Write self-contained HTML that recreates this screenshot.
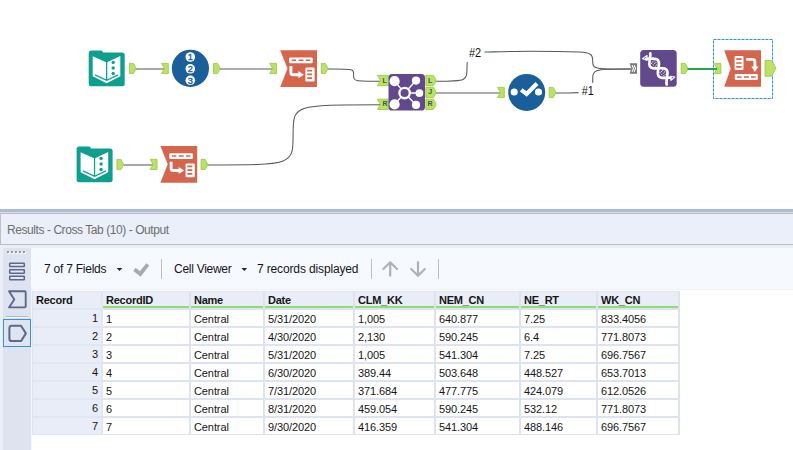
<!DOCTYPE html>
<html><head><meta charset="utf-8">
<style>
html,body{margin:0;padding:0;}
body{width:793px;height:450px;overflow:hidden;background:#fff;position:relative;font-family:"Liberation Sans",sans-serif;}
.abs{position:absolute;}
#canvas{position:absolute;left:0;top:0;width:793px;height:209px;background:#fff;}
#band{position:absolute;left:0;top:209px;width:793px;height:3px;background:#abbbdd;}
#band2{position:absolute;left:0;top:212px;width:793px;height:1px;background:#dedfe2;}
#title{position:absolute;left:0;top:213px;width:793px;height:32px;background:#ebeffa;border-top:1px solid #bcbcbc;border-bottom:1px solid #bcbcbc;border-left:1px solid #c0c0c0;box-sizing:border-box;}
#title span{position:absolute;left:6px;top:8.5px;font-size:12px;line-height:14px;color:#6e6e6e;white-space:nowrap;letter-spacing:-0.43px;}
#panel{position:absolute;left:0;top:245px;width:793px;height:205px;background:#ebeffa;}
#side{position:absolute;left:3px;top:248px;width:28px;height:202px;background:#dde3ef;border-radius:2px 2px 0 0;}
#toolbar{position:absolute;left:31px;top:248px;width:762px;height:42px;background:#f6f9fe;border-radius:3px 0 0 3px;border-bottom:1px solid #f0f0f1;box-sizing:border-box;}
#white{position:absolute;left:31px;top:290px;width:762px;height:160px;background:linear-gradient(90deg,#f3f4f7 1px,#fff 1px);}
.tb{position:absolute;font-size:12px;line-height:14px;color:#161616;white-space:nowrap;top:262px;}
.sep{position:absolute;width:1px;background:#bdbdbd;top:259px;height:20px;}
table{position:absolute;left:32px;top:291px;border-collapse:separate;border-spacing:0;font-size:11px;color:#161616;}
td,th{height:16px;padding:0 0 0 3px;border-right:2px solid #dde3f0;border-bottom:2px solid #dde3f0;text-align:left;white-space:nowrap;background:#fff;box-sizing:content-box;line-height:16px;letter-spacing:-0.1px;font-weight:normal;}
th{background:#e9edf7;font-weight:bold;border-top:1px solid #dde3f0;position:relative;letter-spacing:-0.25px;}
th.g:after{content:"";position:absolute;left:0;right:0;bottom:0;height:2px;background:#92dd72;}
td.r,th.r{background:#e9edf7;border-left:1px solid #dde3f0;border-right-color:#e0e6f2;border-bottom-color:#e0e6f2;}
td{padding-top:2px;height:14px;line-height:14px;}
td.r{text-align:right;padding:0 3.1px 0 0;height:16px;line-height:16px;}
tr:last-child td{border-bottom-width:1px;}
</style></head><body>
<div id="canvas">
<svg class="abs" style="left:0;top:0" width="793" height="209" viewBox="0 0 793 209" font-family="Liberation Sans, sans-serif">
<defs>
  <polygon id="ao" points="0.4,0.4 4.4,0.4 6.7,4.5 6.7,6.5 4.4,10.6 0.4,10.6" fill="#bbe167" stroke="#97c942" stroke-width="0.85"/>
  <polygon id="ai" points="0.4,0.4 7.2,0.4 7.2,10.6 0.4,10.6 3.4,5.5" fill="#bbe167" stroke="#97c942" stroke-width="0.85"/>
  <g id="input">
    <path d="M2.5,0 H12.2 Q13.4,0 13.9,1 L14.4,2 H33.5 Q36,2 36,4.5 V33.3 Q36,35.8 33.5,35.8 H2.5 Q0,35.8 0,33.3 V2.5 Q0,0 2.5,0 Z" fill="#0f9f8f"/>
    <polygon points="4,5.7 17.95,11.9 31.6,5.5 31.6,25.7 17.95,32.8 4,25.7" fill="#fff"/>
    <circle cx="24.5" cy="11.9" r="1.7" fill="#0f9f8f"/>
    <circle cx="24.5" cy="17.5" r="1.7" fill="#0f9f8f"/>
    <circle cx="24.5" cy="23" r="1.7" fill="#0f9f8f"/>
    <path d="M17.95,11.5V29.8M6.4,24.4L17.95,29.9L29.4,24.4" fill="none" stroke="#0f9f8f" stroke-width="1.25"/>
  </g>
  <g id="transpose">
    <polygon points="0,0 36.8,0 36.8,36.7 0,36.7 7.3,18.3" fill="#d6654d"/>
    <rect x="8.9" y="7.2" width="23.6" height="5.8" rx="1.2" fill="#fff"/>
    <path d="M11.6,10.1H15.9M18.4,10.1H23.3M25.5,10.1H30" stroke="#d6654d" stroke-width="1.5" fill="none"/>
    <path d="M10.7,15.8V22.2Q10.7,24.5 13,24.5H18.8" stroke="#fff" stroke-width="2.9" fill="none"/>
    <polygon points="18.2,20.9 23.7,24.5 18.2,28.1" fill="#fff"/>
    <rect x="25.2" y="17.4" width="9.2" height="13.9" rx="1.2" fill="#fff"/>
    <path d="M26.9,20.4H31.9M26.9,24.1H31.9M26.9,27.9H31.9" stroke="#d6654d" stroke-width="1.7" fill="none"/>
  </g>
  <g id="crosstab">
    <polygon points="0,0 36.8,0 36.8,36.5 0,36.5 6.5,18.2" fill="#d6654d"/>
    <rect x="10.4" y="5.8" width="8.9" height="13.8" rx="1.2" fill="#fff"/>
    <path d="M12,8.8H17.4M12,12.7H17.4M12,16.5H17.4" stroke="#d6654d" stroke-width="1.7" fill="none"/>
    <path d="M22,9.1H28.3Q30.7,9.1 30.7,11.5V17" stroke="#fff" stroke-width="2.9" fill="none"/>
    <polygon points="27.1,16.2 34.3,16.2 30.7,21.6" fill="#fff"/>
    <rect x="10.6" y="23.8" width="23" height="5.9" rx="1.2" fill="#fff"/>
    <path d="M12.8,26.7H17.3M19.8,26.7H24.8M26.8,26.7H31.4" stroke="#d6654d" stroke-width="1.6" fill="none"/>
  </g>
</defs>

<!-- wires -->
<g fill="none" stroke="#585858" stroke-width="1.05">
  <path d="M135.8,69H164.6"/>
  <path d="M220,69H272.7"/>
  <path d="M327.8,69C353.6,69 353.6,68.6 353.6,75 C353.6,81.3 353.6,81.3 380.8,81.3"/>
  <path d="M123.4,165H153.3"/>
  <path d="M207.6,165C293.1,165 293.1,165 293.1,134.7 C293.1,104.8 293.1,104.8 380.8,104.8"/>
  <path d="M435.6,93H500.5"/>
  <path d="M435.6,81.3C467,81.3 467,81.3 467,66.6 C467,55 469,52.4 484.5,52.1 C500,51.7 515,51.2 530,51.2 C548,51.2 565,51.5 579,52.1 C590.8,52.7 592.7,54.5 592.7,60.5 C592.7,69 592.7,69 630,69H631.2"/>
  <path d="M555.8,93C592.7,93 592.7,93 592.7,81 C592.7,69 592.7,69 630,69H631.2"/>
</g>

<!-- labels -->
<rect x="465.8" y="44.5" width="18.6" height="17.4" fill="#fff"/>
<text x="469" y="57" font-size="12.6" fill="#111" textLength="12.2" lengthAdjust="spacingAndGlyphs">#2</text>
<rect x="578.6" y="82.8" width="18.3" height="15.6" fill="#fff"/>
<text x="581.8" y="95" font-size="12.6" fill="#111" textLength="12" lengthAdjust="spacingAndGlyphs">#1</text>

<!-- tool 1: input -->
<use href="#input" x="88.7" y="50.5"/>
<use href="#ao" x="129" y="63"/>
<!-- tool 2: record id -->
<use href="#ai" x="161.1" y="63"/>
<circle cx="190.4" cy="68.3" r="18.6" fill="#1a5e9a"/>
<g fill="#fff"><circle cx="190.3" cy="57" r="4.8"/><circle cx="190.3" cy="68.8" r="4.8"/><circle cx="190.3" cy="80.3" r="4.8"/></g>
<g font-size="9.2" fill="#1a5e9a" stroke="#1a5e9a" stroke-width="0.35" text-anchor="middle"><text x="190.2" y="60.3">1</text><text x="190.3" y="72.1">2</text><text x="190.3" y="83.6">3</text></g>
<use href="#ao" x="213.1" y="63"/>
<!-- tool 3: transpose -->
<use href="#ai" x="269.3" y="63"/>
<use href="#transpose" x="280.2" y="50.2"/>
<use href="#ao" x="320.9" y="63"/>
<!-- tool 4: join -->
<g>
  <polygon points="377.4,75.4 388.2,75.4 388.2,85.7 377.4,85.7 380.5,80.55" fill="#bbe167" stroke="#97c942" stroke-width="0.85"/>
  <polygon points="377.4,99.2 388.2,99.2 388.2,109.5 377.4,109.5 380.5,104.35" fill="#bbe167" stroke="#97c942" stroke-width="0.85"/>
  <rect x="388.5" y="73.9" width="36.5" height="36.6" rx="3.6" fill="#62498e"/>
  <g transform="translate(0,0.45)"><g stroke="#fff" stroke-width="1.4"><path d="M404.6,92.6L394.6,80.7M404.6,92.6L394.6,104M404.6,92.6L416,80.1M404.6,92.6H419.4M404.6,92.6L416,104.5"/></g>
  <circle cx="404.6" cy="92.6" r="5.2" fill="#62498e" stroke="#fff" stroke-width="2.3"/>
  <g fill="#fff"><circle cx="394.6" cy="80.7" r="5.1"/><circle cx="394.6" cy="104" r="5.1"/><circle cx="416" cy="80.1" r="4.1"/><circle cx="419.4" cy="92.6" r="3.9"/><circle cx="416" cy="104.5" r="4.1"/></g></g>
  <g fill="#bbe167" stroke="#97c942" stroke-width="0.85">
    <polygon points="425.8,75.4 433.3,75.4 435.8,79.3 435.8,81.8 433.3,85.7 425.8,85.7"/>
    <polygon points="425.8,87.3 433.3,87.3 435.8,91.2 435.8,93.7 433.3,97.6 425.8,97.6"/>
    <polygon points="425.8,99.2 433.3,99.2 435.8,103.1 435.8,105.6 433.3,109.5 425.8,109.5"/>
  </g>
  <g font-size="7" font-weight="bold" fill="#2f5f45">
    <text x="382.4" y="83">L</text><text x="382.5" y="106.3">R</text>
    <text x="427.9" y="83">L</text><text x="428.2" y="94.3">J</text><text x="427.5" y="106.3">R</text>
  </g>
</g>
<!-- tool 5: cleanse -->
<use href="#ai" x="497.1" y="87"/>
<circle cx="526.7" cy="92.4" r="18.5" fill="#1a5e9a"/>
<circle cx="514.2" cy="92" r="3.55" fill="#fff"/><circle cx="538.5" cy="92" r="3.55" fill="#fff"/>
<path d="M521.2,89.8L526.6,93.9L537,83.4" stroke="#fff" stroke-width="4.2" fill="none"/>
<use href="#ao" x="548.8" y="87"/>
<!-- tool 6: union -->
<g>
  <polygon points="629.6,63.3 637,63.3 637,73.8 629.6,73.8 631.3,68.55" fill="#7a7a7a"/>
  <path d="M632.1,65.2L633.5,68.55L632.1,71.9M634.1,65.2L635.6,68.55L634.1,71.9" stroke="#fff" stroke-width="1.1" fill="none"/>
  <rect x="640.2" y="50" width="36.5" height="36.8" rx="3.6" fill="#62498e"/>
  <g id="dna" fill="none" stroke="#fff"><g transform="translate(658.4,68.3) rotate(48)" stroke-width="2.7" stroke-linecap="round">
    <polyline points="-15.2,2.8 -14.8,2.3 -14.3,1.8 -13.9,1.3 -13.5,0.8 -13.0,0.3 -12.6,-0.3 -12.2,-0.8 -11.7,-1.3 -11.3,-1.8 -10.9,-2.3 -10.4,-2.8 -10.0,-3.2 -9.6,-3.6 -9.1,-3.9 -8.7,-4.2 -8.3,-4.5 -7.8,-4.7 -7.4,-4.9 -6.9,-5.0 -6.5,-5.0 -6.1,-5.0 -5.6,-4.9 -5.2,-4.8 -4.8,-4.6 -4.3,-4.4 -3.9,-4.1 -3.5,-3.8 -3.0,-3.4 -2.6,-3.0 -2.2,-2.5 -1.7,-2.1 -1.3,-1.6 -0.9,-1.1 -0.4,-0.5 0.0,0.0 0.4,0.5 0.9,1.1 1.3,1.6 1.7,2.1 2.2,2.5 2.6,3.0 3.0,3.4 3.5,3.8 3.9,4.1 4.3,4.4 4.8,4.6 5.2,4.8 5.6,4.9 6.1,5.0 6.5,5.0 6.9,5.0 7.4,4.9 7.8,4.7 8.3,4.5 8.7,4.2 9.1,3.9 9.6,3.6 10.0,3.2 10.4,2.8 10.9,2.3 11.3,1.8 11.7,1.3 12.2,0.8 12.6,0.3 13.0,-0.3 13.5,-0.8 13.9,-1.3 14.3,-1.8 14.8,-2.3 15.2,-2.8"/>
    <polyline points="-16.6,-4.0 -16.1,-3.6 -15.6,-3.2 -15.1,-2.7 -14.6,-2.2 -14.2,-1.6 -13.7,-1.1 -13.2,-0.5 -12.7,0.1 -12.2,0.7 -11.7,1.3 -11.2,1.9 -10.7,2.4 -10.2,2.9 -9.8,3.4 -9.3,3.8 -8.8,4.2 -8.3,4.5 -7.8,4.7 -7.3,4.9 -6.8,5.0 -6.3,5.0 -5.9,5.0 -5.4,4.8 -4.9,4.7 -4.4,4.4 -3.9,4.1 -3.4,3.7 -2.9,3.3 -2.4,2.8 -1.9,2.3 -1.5,1.7 -1.0,1.2 -0.5,0.6 0.0,-0.0 0.5,-0.6 1.0,-1.2 1.5,-1.8 2.0,-2.3 2.5,-2.8 2.9,-3.3 3.4,-3.7 3.9,-4.1 4.4,-4.4 4.9,-4.7 5.4,-4.8 5.9,-5.0 6.4,-5.0 6.9,-5.0 7.3,-4.9 7.8,-4.7 8.3,-4.5 8.8,-4.2 9.3,-3.8 9.8,-3.4 10.3,-2.9 10.8,-2.4 11.2,-1.9 11.7,-1.3 12.2,-0.7 12.7,-0.1 13.2,0.5 13.7,1.1 14.2,1.7 14.7,2.2 15.2,2.7 15.6,3.2 16.1,3.7 16.6,4.0 17.1,4.4 17.6,4.6"/>
    <path d="M-8.4,-2.3V2.3M-6.0,-2.5V2.5M-3.6,-1.4V1.4M4.4,-2.3V2.3M6.8,-2.5V2.5M9.2,-1.4V1.4" stroke-width="1" stroke-dasharray="0.9,0.9" stroke-linecap="butt"/>
  </g>
  <polygon points="642.5,58.7 647,55.4 647,60.2" stroke-width="1.1" stroke-linejoin="round"/>
  <polygon points="674.8,77 670.6,76.2 671,80.4" stroke-width="1.1" stroke-linejoin="round"/>
  </g>
</g>
<use href="#ao" x="680.8" y="63"/>
<!-- tool 7: crosstab -->
<rect x="713.5" y="39.5" width="59" height="59" fill="none" stroke="#2a8ffb" stroke-width="1" stroke-dasharray="3,1"/>
<use href="#ai" x="713.7" y="63"/>
<use href="#crosstab" x="724.2" y="50.3"/>
<path d="M687.6,69H717" stroke="#2ba24c" stroke-width="2" fill="none"/>
<polygon points="765,60.4 771.8,60.4 775.9,68.3 771.8,76.2 765,76.2" fill="#bbe167" stroke="#97c942" stroke-width="0.85"/>
<!-- bottom row -->
<use href="#input" x="76.6" y="146.5"/>
<use href="#ao" x="116.5" y="159"/>
<use href="#ai" x="149.8" y="159"/>
<use href="#transpose" x="160.4" y="146"/>
<use href="#ao" x="200.7" y="159"/>
</svg>
</div>
<div id="band"></div><div id="band2"></div>
<div id="title"><span>Results - Cross Tab (10) - Output</span></div>
<div id="panel"></div>
<div id="side"></div>
<div id="toolbar"></div>
<div id="white"></div>
<svg class="abs" style="left:0;top:245px" width="793" height="205" viewBox="0 245 793 205">
  <!-- gripper -->
  <g fill="#fff"><rect x="8" y="252" width="2" height="2"/><rect x="12" y="252" width="2" height="2"/><rect x="16" y="252" width="2" height="2"/><rect x="20" y="252" width="2" height="2"/><rect x="24" y="252" width="2" height="2"/></g>
  <g fill="#9a9a9a"><rect x="7" y="251" width="2" height="2"/><rect x="11" y="251" width="2" height="2"/><rect x="15" y="251" width="2" height="2"/><rect x="19" y="251" width="2" height="2"/><rect x="23" y="251" width="2" height="2"/></g>
  <!-- side icons -->
  <g fill="#e4e8f1" stroke="#5c6989" stroke-width="1.5">
    <rect x="9.7" y="263.2" width="14.6" height="3.4" rx="0.5"/>
    <rect x="9.7" y="269.8" width="14.6" height="3.4" rx="0.5"/>
    <rect x="9.7" y="276.3" width="14.6" height="3.4" rx="0.5"/>
  </g>
  <path d="M9,291.3H24.6Q25.7,291.3 25.7,292.4V306.3Q25.7,307.4 24.6,307.4H9L14.3,299.4Z" fill="none" stroke="#5c6989" stroke-width="1.9" stroke-linejoin="round"/>
  <rect x="5.5" y="316" width="23" height="1" fill="#b8b8b8"/><rect x="5.5" y="317" width="23" height="1" fill="#f4f6fb"/>
  <rect x="3.5" y="319.5" width="27" height="27" fill="#dfe5f0" stroke="#3390f0" stroke-width="1"/>
  <path d="M11.8,325.8H21L25.9,333.4L21,341.1H11.8Q9.4,341.1 9.4,338.7V328.2Q9.4,325.8 11.8,325.8Z" fill="none" stroke="#5c6989" stroke-width="2" stroke-linejoin="round"/>
  <!-- toolbar icons -->
  <polygon points="116.7,268 122.3,268 119.5,271.1" fill="#222"/>
  <polygon points="241.5,268 247.1,268 244.3,271.1" fill="#222"/>
  <path d="M134.4,269.2L140.3,274L147.8,264.3" fill="none" stroke="#a9a9a9" stroke-width="3.8"/>
  <g fill="none" stroke="#b1b1b1" stroke-width="2.2" stroke-linecap="round" stroke-linejoin="round">
    <path d="M390.2,262.4V275.6M383.4,269L390.2,262.2L397,269"/>
    <path d="M418,262.2V275.6M411.2,269L418,275.8L424.8,269"/>
  </g>
</svg>
<div class="tb" style="left:44px;letter-spacing:-0.24px">7 of 7 Fields</div>
<div class="tb" style="left:174px;letter-spacing:-0.27px">Cell Viewer</div>
<div class="tb" style="left:257px;letter-spacing:-0.14px">7 records displayed</div>
<div class="sep" style="left:161px"></div>
<div class="sep" style="left:371px"></div>
<div class="sep" style="left:438px"></div>
<table>
<tr><th class="r" style="width:65px">Record</th><th class="g" style="width:83px">RecordID</th><th class="g" style="width:69px">Name</th><th class="g" style="width:85px">Date</th><th class="g" style="width:76px">CLM_KK</th><th class="g" style="width:80px">NEM_CN</th><th class="g" style="width:72px">NE_RT</th><th class="g" style="width:77px">WK_CN</th></tr>
<tr><td class="r">1</td><td>1</td><td>Central</td><td>5/31/2020</td><td>1,005</td><td>640.877</td><td>7.25</td><td>833.4056</td></tr>
<tr><td class="r">2</td><td>2</td><td>Central</td><td>4/30/2020</td><td>2,130</td><td>590.245</td><td>6.4</td><td>771.8073</td></tr>
<tr><td class="r">3</td><td>3</td><td>Central</td><td>5/31/2020</td><td>1,005</td><td>541.304</td><td>7.25</td><td>696.7567</td></tr>
<tr><td class="r">4</td><td>4</td><td>Central</td><td>6/30/2020</td><td>389.44</td><td>503.648</td><td>448.527</td><td>653.7013</td></tr>
<tr><td class="r">5</td><td>5</td><td>Central</td><td>7/31/2020</td><td>371.684</td><td>477.775</td><td>424.079</td><td>612.0526</td></tr>
<tr><td class="r">6</td><td>6</td><td>Central</td><td>8/31/2020</td><td>459.054</td><td>590.245</td><td>532.12</td><td>771.8073</td></tr>
<tr><td class="r">7</td><td>7</td><td>Central</td><td>9/30/2020</td><td>416.359</td><td>541.304</td><td>488.146</td><td>696.7567</td></tr>
</table>
</body></html>
